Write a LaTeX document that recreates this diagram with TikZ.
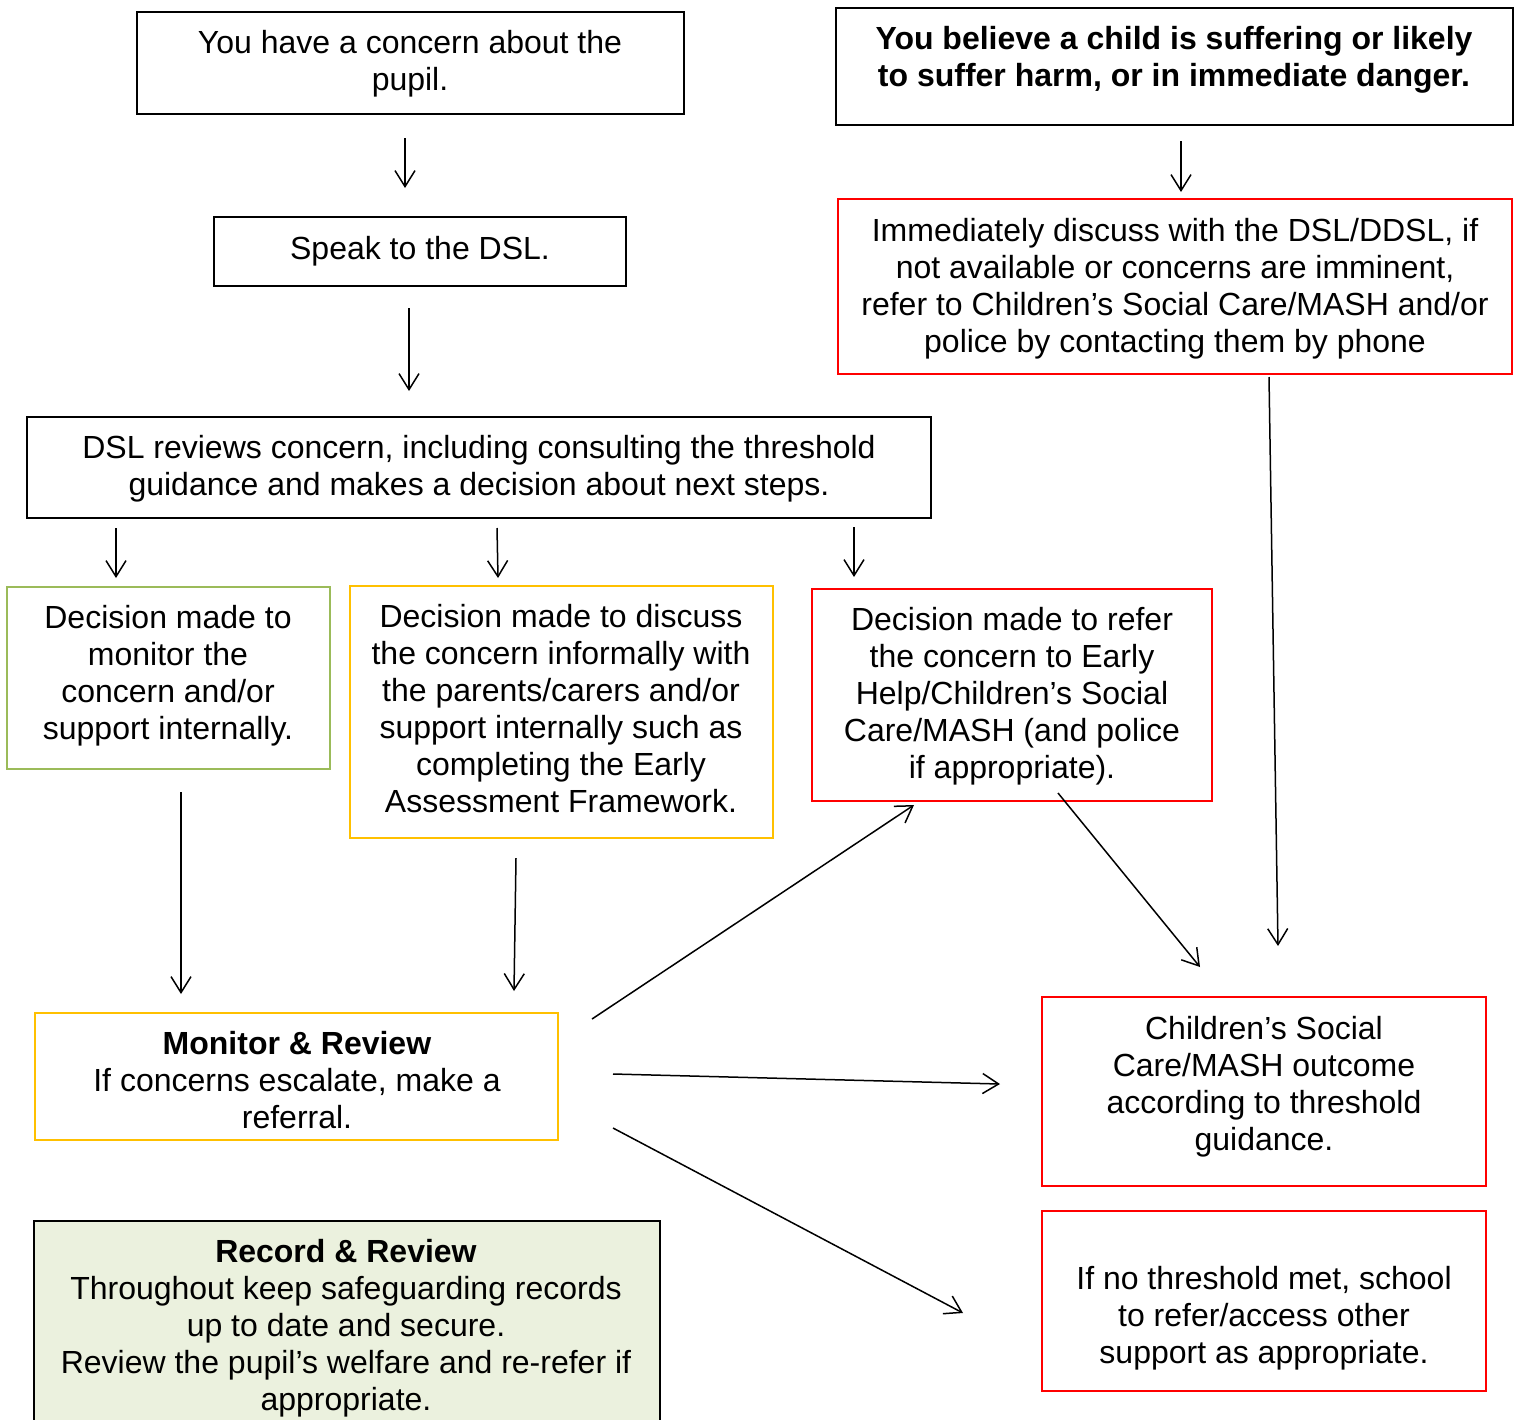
\documentclass[tikz,border=0pt]{standalone}
\usepackage{fontspec}
\setmainfont{Liberation Sans}
\usetikzlibrary{arrows.meta}
\definecolor{cred}{HTML}{FF0000}
\definecolor{cyellow}{HTML}{FFC000}
\definecolor{cgreen}{HTML}{9BBB59}
\definecolor{cfill}{HTML}{EBF1DE}
\tikzset{
  box/.style={draw=black, line width=1pt, rectangle, inner sep=0pt, fill=white},
  txt/.style={align=center, font=\fontsize{16pt}{18.5pt}\selectfont, inner sep=0pt},
  arr/.style={-{Straight Barb[length=8pt,width=10pt]}, line width=0.75pt}
}
\begin{document}
\begin{tikzpicture}[x=0.5pt,y=-0.5pt]
\clip (0,0) rectangle (1520,1419);
\fill[white] (0,0) rectangle (1520,1419);

% boxes
\node[box, minimum width=273.5pt, minimum height=51pt] (A) at (410.5,63) {};
\node[box, minimum width=338.5pt, minimum height=58.5pt] (B) at (1174.5,66.5) {};
\node[box, minimum width=206pt, minimum height=34.5pt] (C) at (420,251.5) {};
\node[box, draw=cred, minimum width=337pt, minimum height=87.5pt] (D) at (1175,286.5) {};
\node[box, minimum width=452pt, minimum height=50.5pt] (E) at (479,467.5) {};
\node[box, draw=cgreen, minimum width=161.5pt, minimum height=91pt] (F) at (168.5,678) {};
\node[box, draw=cyellow, minimum width=211.5pt, minimum height=126pt] (G) at (561.5,712) {};
\node[box, draw=cred, minimum width=200pt, minimum height=106pt] (H) at (1012,695) {};
\node[box, draw=cyellow, minimum width=261.5pt, minimum height=63.5pt] (I) at (296.5,1076.5) {};
\node[box, draw=cred, minimum width=222pt, minimum height=94.5pt] (J) at (1264,1091.5) {};
\node[box, draw=cred, minimum width=222pt, minimum height=90pt] (K) at (1264,1301) {};
\node[box, fill=cfill, minimum width=313pt, minimum height=109.5pt] (L) at (347,1330.5) {};

% texts
\node[txt] (At) at (410,63.5) {You have a concern about the\\pupil.};
\node[txt, font=\fontsize{16pt}{18.5pt}\selectfont\bfseries] (Bt) at (1174,59.5) {You believe a child is suffering or likely\\to suffer harm, or in immediate danger.};
\node[txt] (Ct) at (420,251) {Speak to the DSL.};
\node[txt] (Dt) at (1175,288.5) {Immediately discuss with the DSL/DDSL, if\\not available or concerns are imminent,\\refer to Children’s Social Care/MASH and/or\\police by contacting them by phone};
\node[txt] (Et) at (479,468.5) {DSL reviews concern, including consulting the threshold\\guidance and makes a decision about next steps.};
\node[txt] (Ft) at (168,675.5) {Decision made to\\monitor the\\concern and/or\\support internally.};
\node[txt] (Gt) at (561,708.5) {Decision made to discuss\\the concern informally with\\the parents/carers and/or\\support internally such as\\completing the Early\\Assessment Framework.};
\node[txt] (Ht) at (1012,696) {Decision made to refer\\the concern to Early\\Help/Children’s Social\\Care/MASH (and police\\if appropriate).};
\node[txt] (It) at (297,1080) {\textbf{Monitor \& Review}\\If concerns escalate, make a\\referral.};
\node[txt] (Jt) at (1264,1087) {Children’s Social\\Care/MASH outcome\\according to threshold\\guidance.};
\node[txt] (Kt) at (1264,1318) {If no threshold met, school\\to refer/access other\\support as appropriate.};
\node[txt] (Lt) at (346,1328) {\textbf{Record \& Review}\\Throughout keep safeguarding records\\up to date and secure.\\Review the pupil’s welfare and re-refer if\\appropriate.};

% connector ends
\coordinate (a1s) at (405,138);  \coordinate (a1e) at (405,188);
\coordinate (a2s) at (1181,141); \coordinate (a2e) at (1181,192);
\coordinate (a3s) at (409,308);  \coordinate (a3e) at (409,391);
\coordinate (a4s) at (116,528);  \coordinate (a4e) at (116,578);
\coordinate (a5s) at (497,528);  \coordinate (a5e) at (498,578);
\coordinate (a6s) at (854,527);  \coordinate (a6e) at (854,577);
\coordinate (a7s) at (1269,377); \coordinate (a7e) at (1278,946);
\coordinate (a8s) at (181,792);  \coordinate (a8e) at (181,994);
\coordinate (a9s) at (516,858);  \coordinate (a9e) at (514,991);
\coordinate (a10s) at (592,1019); \coordinate (a10e) at (914,805);
\coordinate (a11s) at (1058,793); \coordinate (a11e) at (1200,967);
\coordinate (a12s) at (613,1074); \coordinate (a12e) at (1000,1084);
\coordinate (a13s) at (613,1128); \coordinate (a13e) at (963,1313);

\draw[arr] (a1s) -- (a1e);
\draw[arr] (a2s) -- (a2e);
\draw[arr] (a3s) -- (a3e);
\draw[arr] (a4s) -- (a4e);
\draw[arr] (a5s) -- (a5e);
\draw[arr] (a6s) -- (a6e);
\draw[arr] (a7s) -- (a7e);
\draw[arr] (a8s) -- (a8e);
\draw[arr] (a9s) -- (a9e);
\draw[arr] (a10s) -- (a10e);
\draw[arr] (a11s) -- (a11e);
\draw[arr] (a12s) -- (a12e);
\draw[arr] (a13s) -- (a13e);
\end{tikzpicture}
\end{document}
